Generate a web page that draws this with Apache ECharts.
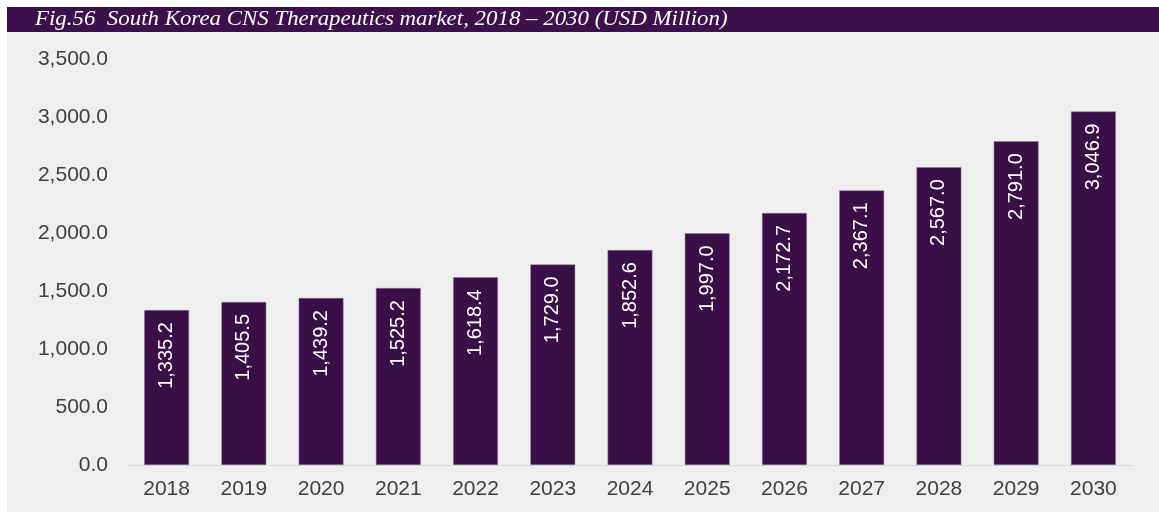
<!DOCTYPE html>
<html>
<head>
<meta charset="utf-8">
<script src="https://cdn.jsdelivr.net/npm/echarts@6/dist/echarts.min.js"></script>
<style>
  html, body { margin: 0; padding: 0; background: #ffffff; }
  #chart { width: 1159px; height: 512px; }
</style>
</head>
<body>
<div id="chart"></div>
<script>
// data
var years = ['2018', '2019', '2020', '2021', '2022', '2023', '2024', '2025', '2026', '2027', '2028', '2029', '2030'];
var marketSize = [1335.2, 1405.5, 1439.2, 1525.2, 1618.4, 1729.0, 1852.6, 1997.0, 2172.7, 2367.1, 2567.0, 2791.0, 3046.9];
var yTicks = [0, 500, 1000, 1500, 2000, 2500, 3000, 3500];

var titleText = 'Fig.56  South Korea CNS Therapeutics market, 2018 \u2013 2030 (USD Million)';

function fmt(v) {
    return v.toLocaleString('en-US', { minimumFractionDigits: 1, maximumFractionDigits: 1 });
}

var myChart = echarts.init(document.getElementById('chart'), null, { renderer: 'canvas' });

myChart.setOption({
    backgroundColor: '#ffffff',
    animation: false,
    graphic: [
        // grey panel
        { type: 'rect', left: 7, top: 32, z: -10, shape: { width: 1152, height: 480 }, style: { fill: '#efefef' } },
        // title band
        { type: 'rect', left: 7, top: 7, z: -10, shape: { width: 1152, height: 25 }, style: { fill: '#3d0f4d' } },
        {
            type: 'text', x: 35, y: 8, z: 10,
            scaleX: 1.04,
            style: {
                text: titleText,
                fill: '#ffffff',
                font: 'italic 22px "Liberation Serif", "DejaVu Serif", serif'
            }
        }
    ],
    grid: {
        left: 128,
        right: 27,
        top: 59,
        bottom: 47
    },
    xAxis: {
        type: 'category',
        data: years,
        axisTick: { show: false },
        axisLine: { lineStyle: { color: '#d9d9d9', width: 1 } },
        axisLabel: {
            color: '#404040',
            fontSize: 21,
            fontFamily: '"Liberation Sans", Arial, sans-serif',
            margin: 14
        }
    },
    yAxis: {
        type: 'value',
        min: yTicks[0],
        max: yTicks[yTicks.length - 1],
        interval: 500,
        splitLine: { show: false },
        axisLine: { show: false },
        axisTick: { show: false },
        axisLabel: {
            color: '#404040',
            fontSize: 21,
            fontFamily: '"Liberation Sans", Arial, sans-serif',
            margin: 20,
            formatter: function (v) { return fmt(v); }
        }
    },
    series: [
        {
            type: 'bar',
            data: marketSize,
            barWidth: '58%',
            itemStyle: {
                color: '#3a0f47',
                borderColor: '#8a7a90',
                borderWidth: 0.5
            },
            label: {
                show: true,
                position: 'insideTop',
                rotate: 90,
                align: 'right',
                verticalAlign: 'middle',
                distance: 12,
                color: '#ffffff',
                fontSize: 20,
                fontFamily: '"Liberation Sans", Arial, sans-serif',
                formatter: function (p) { return fmt(p.value); }
            }
        }
    ]
});
</script>
</body>
</html>
